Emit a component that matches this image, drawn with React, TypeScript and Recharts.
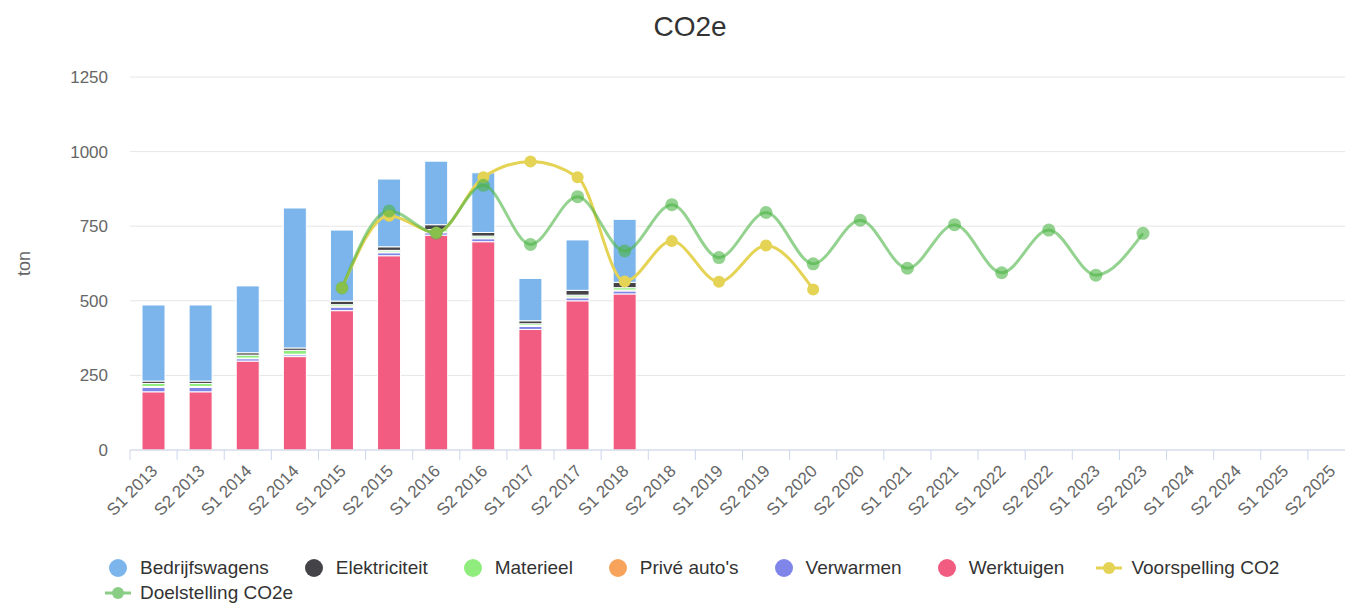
import React from "react";
import { ComposedChart, Bar, Line, XAxis, YAxis, CartesianGrid } from "recharts";

const categories = [
  "S1 2013", "S2 2013", "S1 2014", "S2 2014", "S1 2015", "S2 2015", "S1 2016",
  "S2 2016", "S1 2017", "S2 2017", "S1 2018", "S2 2018", "S1 2019", "S2 2019",
  "S1 2020", "S2 2020", "S1 2021", "S2 2021", "S1 2022", "S2 2022", "S1 2023",
  "S2 2023", "S1 2024", "S2 2024", "S1 2025", "S2 2025",
];

// stacked bars (ton), only S1 2013 .. S1 2018 have data
const werktuigen = [195, 195, 298, 313, 467, 651, 720, 698, 404, 500, 523];
const verwarmen = [15, 15, 8, 6, 12, 10, 8, 10, 10, 10, 10];
const priveAutos = [3, 3, 2, 2, 3, 3, 3, 3, 3, 3, 3];
const materieel = [10, 10, 10, 13, 5, 5, 8, 6, 6, 6, 8];
const elektriciteit = [8, 8, 8, 8, 12, 12, 16, 12, 10, 16, 18];
const bedrijfswagens = [255, 255, 224, 469, 238, 227, 213, 200, 142, 169, 211];

// lines
const voorspelling = [
  null, null, null, null, 543, 785, 728, 914, 967, 914, 565, 700, 564, 685, 538,
];
const doelstelling = [
  null, null, null, null, 543, 801, 727, 887, 689, 849, 667, 822, 645, 796, 624,
  770, 609, 755, 594, 737, 586, 726,
];

const yTicks = [0, 250, 500, 750, 1000, 1250];

const GREEN = "rgb(76,180,70)";
const YELLOW = "#e4d354";

const legendItems = [
  { name: "Bedrijfswagens", color: "#7cb5ec", kind: "bar" },
  { name: "Elektriciteit", color: "#434348", kind: "bar" },
  { name: "Materieel", color: "#90ed7d", kind: "bar" },
  { name: "Privé auto's", color: "#f7a35c", kind: "bar" },
  { name: "Verwarmen", color: "#8085e9", kind: "bar" },
  { name: "Werktuigen", color: "#f15c80", kind: "bar" },
  { name: "Voorspelling CO2", color: YELLOW, kind: "line" },
  { name: "Doelstelling CO2e", color: GREEN, kind: "line" },
];

const CHART_W = 1380;
const CHART_H = 603;
const MARGIN = { top: 77, right: 25, left: 0, bottom: 53 };
const Y_AXIS_W = 130;
const STEP = (CHART_W - MARGIN.left - MARGIN.right - Y_AXIS_W) / categories.length;
const FONT = "'Liberation Sans', Arial, Helvetica, sans-serif";

const data = categories.map((name, i) => ({
  name,
  werktuigen: werktuigen[i] ?? null,
  verwarmen: verwarmen[i] ?? null,
  priveAutos: priveAutos[i] ?? null,
  materieel: materieel[i] ?? null,
  elektriciteit: elektriciteit[i] ?? null,
  bedrijfswagens: bedrijfswagens[i] ?? null,
  voorspelling: voorspelling[i] ?? null,
  doelstelling: doelstelling[i] ?? null,
}));

function CategoryTick({ x, y, payload }: any) {
  const left = x - STEP / 2;
  const ax = x + 5;
  const ay = y + 12;
  return (
    <g>
      <line x1={left} x2={left} y1={y - 10} y2={y} stroke="#ccd6eb" />
      <text
        x={ax}
        y={ay}
        transform={`rotate(-45 ${ax} ${ay})`}
        textAnchor="end"
        fontSize={17}
        fill="#666666"
        fontFamily={FONT}
      >
        {payload.value}
      </text>
    </g>
  );
}

function YLabel({ viewBox }: any) {
  const x = viewBox.x + 24;
  const y = viewBox.y + viewBox.height / 2;
  return (
    <text
      x={x}
      y={y}
      transform={`rotate(-90 ${x} ${y})`}
      textAnchor="middle"
      dominantBaseline="central"
      fontSize={18}
      fill="#666666"
      fontFamily={FONT}
    >
      ton
    </text>
  );
}

function LegendSymbol({ item }: { item: (typeof legendItems)[number] }) {
  return (
    <svg width={26} height={20} style={{ display: "block" }}>
      {item.kind === "line" ? (
        <g opacity={item.color === GREEN ? 0.65 : 1}>
          <line x1={0} x2={26} y1={10} y2={10} stroke={item.color} strokeWidth={3} />
          <circle cx={13} cy={10} r={6} fill={item.color} />
        </g>
      ) : (
        <circle cx={13} cy={10} r={9} fill={item.color} />
      )}
    </svg>
  );
}

function LegendRow({ items, top }: { items: typeof legendItems; top: number }) {
  return (
    <div
      style={{
        position: "absolute",
        left: 105,
        top,
        display: "flex",
        alignItems: "center",
        whiteSpace: "nowrap",
        height: 25,
      }}
    >
      {items.map((it) => (
        <div key={it.name} style={{ display: "flex", alignItems: "center", marginRight: 32 }}>
          <LegendSymbol item={it} />
          <span style={{ marginLeft: 9, fontSize: 19, lineHeight: "25px", color: "#333333" }}>
            {it.name}
          </span>
        </div>
      ))}
    </div>
  );
}

export default function App() {
  return (
    <div
      style={{
        position: "absolute",
        left: 0,
        top: 0,
        width: 1345,
        height: 603,
        overflow: "hidden",
        background: "#ffffff",
        fontFamily: FONT,
      }}
    >
      <div
        style={{
          position: "absolute",
          left: 0,
          top: 13,
          width: CHART_W,
          textAlign: "center",
          fontSize: 28,
          lineHeight: "28px",
          color: "#333333",
        }}
      >
        CO2e
      </div>
      <div style={{ position: "absolute", left: 0, top: 0 }}>
        <ComposedChart width={CHART_W} height={CHART_H} data={data} margin={MARGIN}>
          <CartesianGrid vertical={false} stroke="#e6e6e6" />
          <XAxis
            dataKey="name"
            interval={0}
            axisLine={{ stroke: "#ccd6eb" }}
            tickLine={false}
            tickSize={10}
            tickMargin={0}
            height={100}
            tick={<CategoryTick />}
          />
          <YAxis
            width={Y_AXIS_W}
            domain={[0, 1250]}
            ticks={yTicks}
            axisLine={false}
            tickLine={false}
            tickSize={0}
            tickMargin={22}
            tick={{ fontSize: 17, fill: "#666666", fontFamily: FONT }}
            label={<YLabel />}
          />
          <Bar dataKey="werktuigen" stackId="a" fill="#f15c80" stroke="#ffffff" strokeWidth={1} barSize={23} isAnimationActive={false} />
          <Bar dataKey="verwarmen" stackId="a" fill="#8085e9" stroke="#ffffff" strokeWidth={1} barSize={23} isAnimationActive={false} />
          <Bar dataKey="priveAutos" stackId="a" fill="#f7a35c" stroke="#ffffff" strokeWidth={1} barSize={23} isAnimationActive={false} />
          <Bar dataKey="materieel" stackId="a" fill="#90ed7d" stroke="#ffffff" strokeWidth={1} barSize={23} isAnimationActive={false} />
          <Bar dataKey="elektriciteit" stackId="a" fill="#434348" stroke="#ffffff" strokeWidth={1} barSize={23} isAnimationActive={false} />
          <Bar dataKey="bedrijfswagens" stackId="a" fill="#7cb5ec" stroke="#ffffff" strokeWidth={1} barSize={23} isAnimationActive={false} />
          <Line
            dataKey="voorspelling"
            type="monotone"
            stroke={YELLOW}
            strokeWidth={3}
            dot={{ r: 6, fill: YELLOW, stroke: "none" }}
            activeDot={false}
            isAnimationActive={false}
          />
          <Line
            dataKey="doelstelling"
            type="monotone"
            stroke={GREEN}
            strokeOpacity={0.6}
            strokeWidth={3}
            dot={{ r: 6.5, fill: GREEN, fillOpacity: 0.6, stroke: "none" }}
            activeDot={false}
            isAnimationActive={false}
          />
        </ComposedChart>
      </div>
      <LegendRow items={legendItems.slice(0, 7)} top={555} />
      <LegendRow items={legendItems.slice(7)} top={580} />
    </div>
  );
}
